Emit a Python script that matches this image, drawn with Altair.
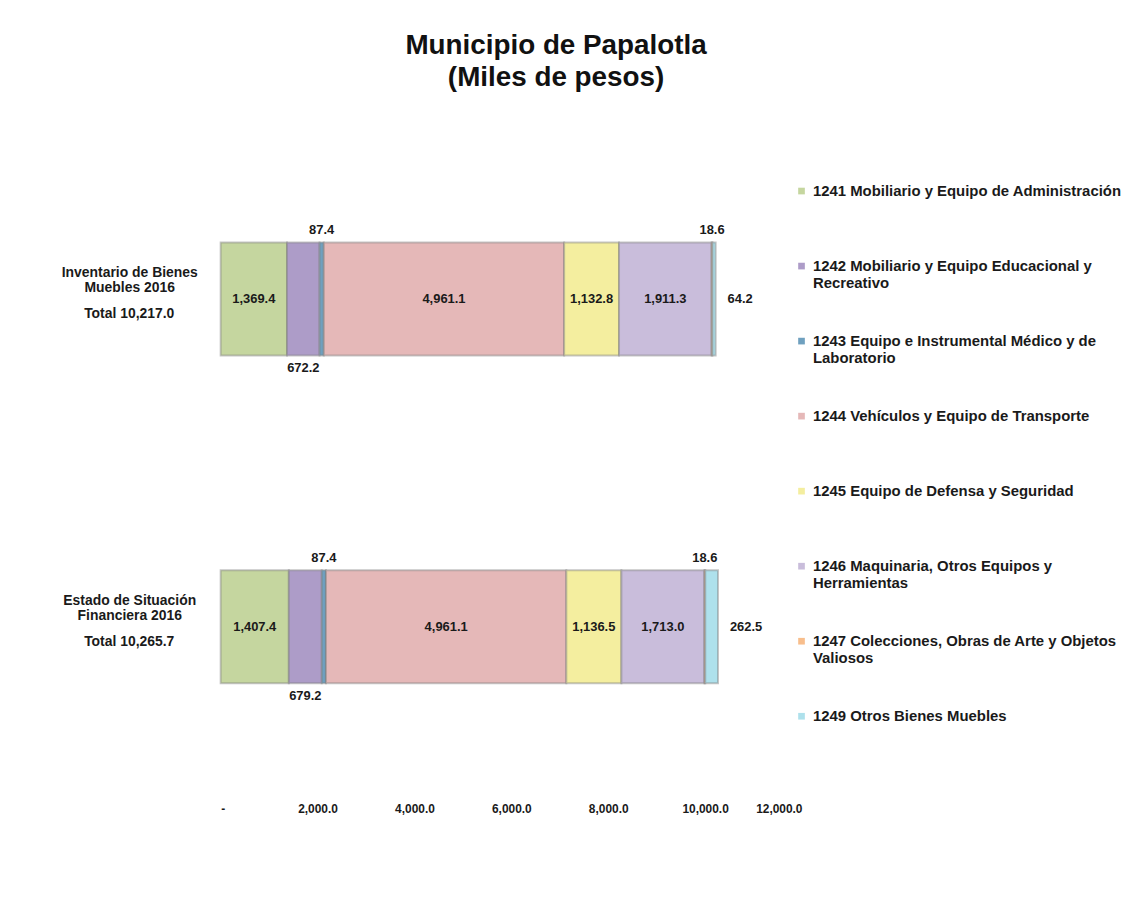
import altair as alt
import pandas as pd

# ---- data ----
NB = "\u00a0"
categories = [
    "1241 Mobiliario y Equipo de Administración|" + NB,
    "1242 Mobiliario y Equipo Educacional y|Recreativo",
    "1243 Equipo e Instrumental Médico y de|Laboratorio",
    "1244 Vehículos y Equipo de Transporte|" + NB,
    "1245 Equipo de Defensa y Seguridad|" + NB,
    "1246 Maquinaria, Otros Equipos y|Herramientas",
    "1247 Colecciones, Obras de Arte y Objetos|Valiosos",
    "1249 Otros Bienes Muebles|" + NB,
]
colors = ["#c5d69f", "#ad9cc8", "#6fa0bf", "#e5b8b8", "#f4ee9f", "#c9bddb", "#f8be8c", "#aee1ec"]
rows = ["Inventario de Bienes|Muebles 2016", "Estado de Situación|Financiera 2016"]
row_totals = ["Total 10,217.0", "Total  10,265.7"]
values_inventario = [1369.4, 672.2, 87.4, 4961.1, 1132.8, 1911.3, 18.6, 64.2]
values_estado = [1407.4, 679.2, 87.4, 4961.1, 1136.5, 1713.0, 18.6, 262.5]
label_place = ["center", "below", "above", "center", "center", "center", "above", "right"]
x_ticks = [0, 2000, 4000, 6000, 8000, 10000, 12000]

records = []
for row, vals in zip(rows, [values_inventario, values_estado]):
    start = 0.0
    for i, (cat, v) in enumerate(zip(categories, vals)):
        records.append({
            "row": row, "cat": cat, "order": i, "value": v,
            "x0": start, "x1": start + v, "mid": start + v / 2,
            "place": label_place[i], "label": f"{v:,.1f}",
        })
        start += v
df = pd.DataFrame(records)
totals_df = pd.DataFrame({"row": rows, "total": row_totals})

FONT = "Liberation Sans"

y_enc = alt.Y(
    "row:N", sort=rows, title=None,
    scale=alt.Scale(paddingInner=0.655, paddingOuter=0.334),
    axis=alt.Axis(
        labelExpr="split(datum.label, '|')", labelAlign="center",
        labelPadding=92, ticks=False, domain=False, labelFont=FONT,
        labelFontSize=14, labelFontWeight="bold", labelColor="#1a1a1a",
        labelLineHeight=15, labelLimit=300, labelOffset=-26,
    ),
)
x_scale = alt.Scale(domain=[0, 12000], nice=False)

bars = alt.Chart(df).mark_bar(stroke="#7f7f7f", strokeOpacity=0.45, strokeWidth=2).encode(
    x=alt.X("x0:Q", scale=x_scale, title=None,
            axis=alt.Axis(values=x_ticks, grid=False, domain=False, ticks=False,
                          labelExpr="datum.value == 0 ? '-' : format(datum.value, ',.1f')",
                          labelFont=FONT, labelFontSize=12, labelFontWeight="bold",
                          labelColor="#1a1a1a", labelPadding=11)),
    x2="x1:Q",
    y=y_enc,
    color=alt.Color(
        "cat:N", sort=categories,
        scale=alt.Scale(domain=categories, range=colors),
        legend=alt.Legend(
            title=None, orient="none", legendX=577, legendY=51,
            labelExpr="split(datum.label, '|')", labelFont=FONT, labelFontSize=15,
            labelFontWeight="bold", labelColor="#1a1a1a", labelLimit=400,
            symbolType="square", symbolSize=45, symbolStrokeWidth=0,
            rowPadding=42.5, labelOffset=4, labelBaseline="middle",
        ),
    ),
    order=alt.Order("order:Q"),
)

text_style = dict(font=FONT, fontSize=13, fontWeight="bold", color="#1a1a1a")

center_text = alt.Chart(df).transform_filter("datum.place == 'center'").mark_text(**text_style).encode(
    x=alt.X("mid:Q", scale=x_scale), y=alt.Y("row:N", sort=rows), text="label:N")
above_text = alt.Chart(df).transform_filter("datum.place == 'above'").mark_text(dy=-69, **text_style).encode(
    x=alt.X("mid:Q", scale=x_scale), y=alt.Y("row:N", sort=rows), text="label:N")
below_text = alt.Chart(df).transform_filter("datum.place == 'below'").mark_text(dy=70, **text_style).encode(
    x=alt.X("mid:Q", scale=x_scale), y=alt.Y("row:N", sort=rows), text="label:N")
right_text = alt.Chart(df).transform_filter("datum.place == 'right'").mark_text(align="left", dx=12, **text_style).encode(
    x=alt.X("x1:Q", scale=x_scale), y=alt.Y("row:N", sort=rows), text="label:N")

total_text = alt.Chart(totals_df).mark_text(
    font=FONT, fontSize=14, fontWeight="bold", color="#1a1a1a", align="center", dy=15
).encode(x=alt.value(-92), y=alt.Y("row:N", sort=rows), text="total:N")

chart = alt.layer(bars, center_text, above_text, below_text, right_text, total_text).properties(
    width=585, height=664,
    padding={"left": 214, "top": 123, "right": 322, "bottom": 70},
    autosize=alt.AutoSizeParams(type="none"),
    title=alt.Title(
        ["Municipio de Papalotla", "(Miles de pesos)"], anchor="middle",
        font=FONT, fontSize=28, fontWeight="bold", color="#111111",
        lineHeight=32, offset=41, dx=45,
    ),
).configure_view(strokeWidth=0)

chart.save("out.html", embed_options={"renderer": "svg", "actions": False})
